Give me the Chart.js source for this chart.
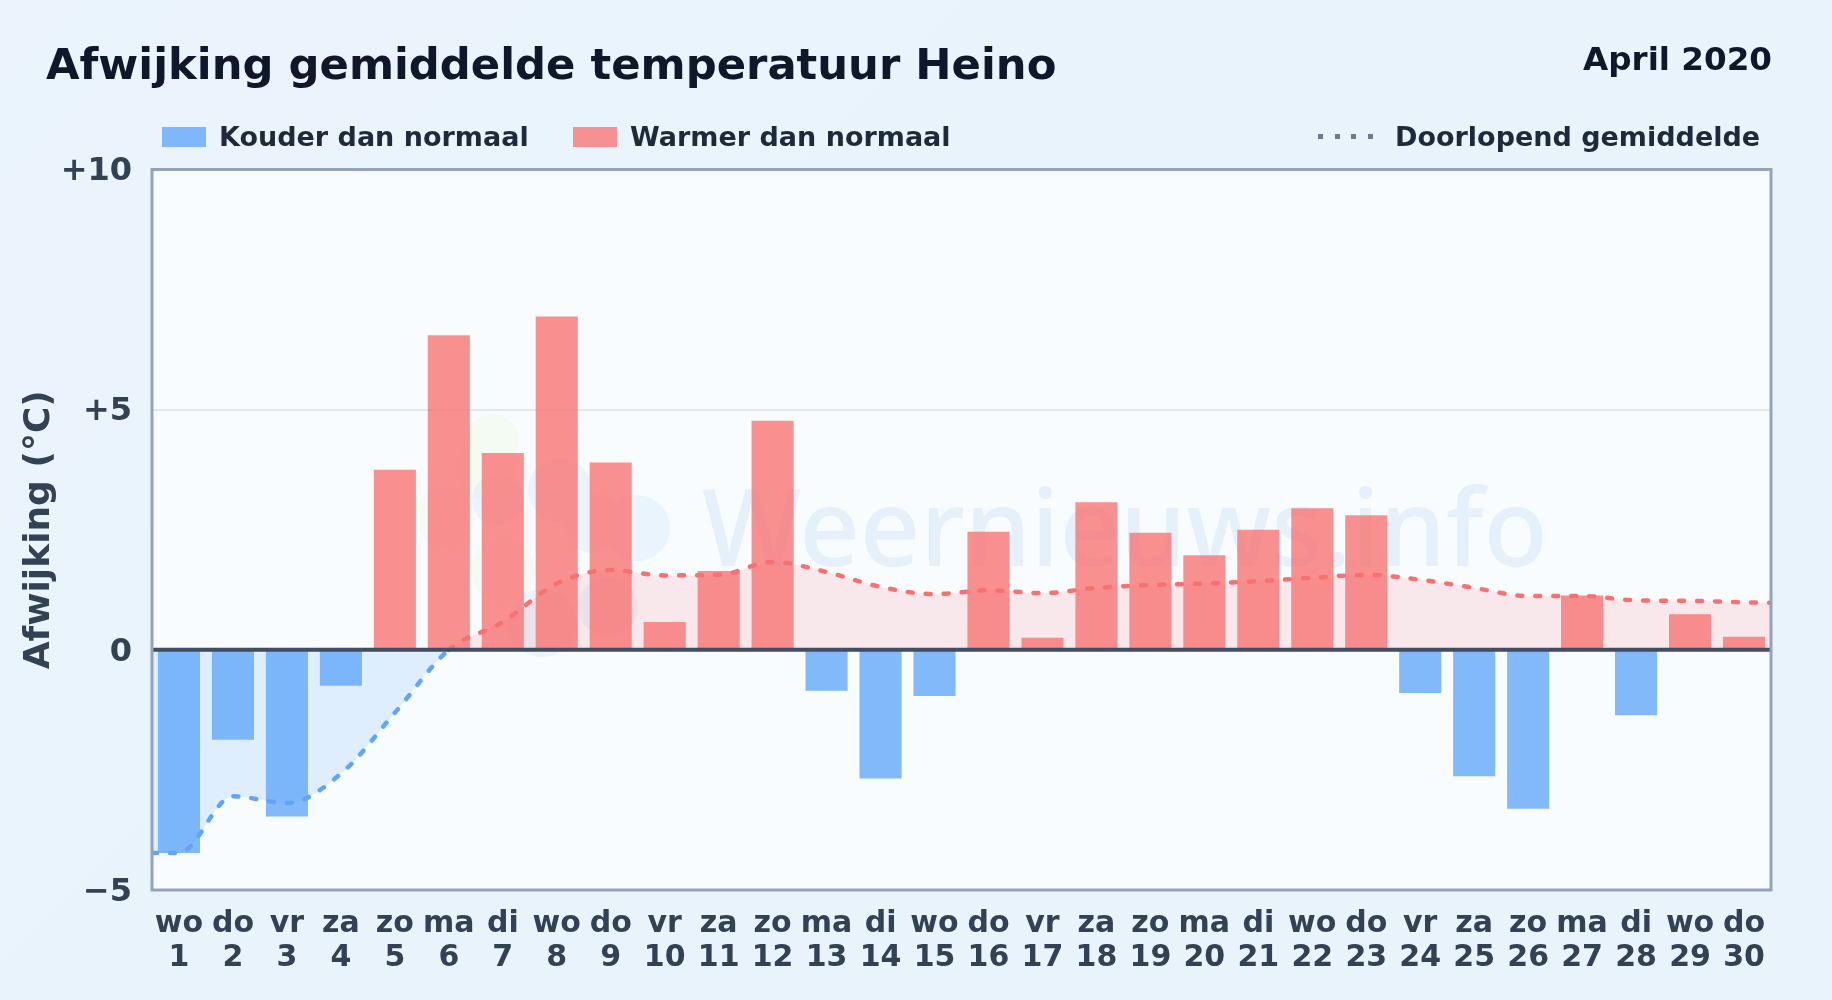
<!DOCTYPE html>
<html><head><meta charset="utf-8">
<script src="https://cdn.jsdelivr.net/npm/chart.js@4"></script>
<style>
html,body{margin:0;padding:0;width:1832px;height:1000px;overflow:hidden;background:linear-gradient(135deg,#ebf4fc 0%,#e8f3fc 50%,#e9f3fc 100%);font-family:"DejaVu Sans",sans-serif;font-weight:700}
#c{position:absolute;left:0;top:0}
.t{position:absolute;white-space:nowrap}
#title{left:46px;top:38px;font-size:43.3px;color:#0f172a;line-height:52px}
#date{right:60px;top:40px;font-size:32.6px;color:#0f172a;line-height:38px}
.leg{top:122px;font-size:27px;color:#1e293b;line-height:30px}
.sw{position:absolute;top:127px;width:44px;height:20px}
</style></head><body>
<canvas id="c" width="1832" height="1000"></canvas>
<div class="t" id="title">Afwijking gemiddelde temperatuur Heino</div>
<div class="t" id="date">April 2020</div>
<div class="sw" style="left:162px;background:#80b6fb"></div>
<div class="t leg" style="left:219px">Kouder dan normaal</div>
<div class="sw" style="left:573px;background:#f79093"></div>
<div class="t leg" style="left:630px">Warmer dan normaal</div>
<div class="sw" style="left:1318px;width:56px;top:134px;height:5px;background:repeating-linear-gradient(90deg,#6b7a8d 0 5px,transparent 5px 16.6px)"></div>
<div class="t leg" style="left:1395px">Doorlopend gemiddelde</div>
<script>
const weekdays = ["wo","do","vr","za","zo","ma","di","wo","do","vr","za","zo","ma","di","wo","do","vr","za","zo","ma","di","wo","do","vr","za","zo","ma","di","wo","do"];
const dates = [1,2,3,4,5,6,7,8,9,10,11,12,13,14,15,16,17,18,19,20,21,22,23,24,25,26,27,28,29,30];
const deviation = [-4.23,-1.87,-3.47,-0.75,3.75,6.55,4.1,6.94,3.9,0.58,1.64,4.77,-0.85,-2.68,-0.96,2.46,0.25,3.07,2.44,1.97,2.5,2.95,2.8,-0.9,-2.63,-3.31,1.13,-1.36,0.74,0.27];
const runningDays = [0.5,1,2,3,4,5,6,7,8,9,10,11,12,13,14,15,16,17,18,19,20,21,22,23,24,25,26,27,28,29,30,30.5];
const runningMean = [-4.23,-4.23,-3.05,-3.19,-2.58,-1.31,0,0.58,1.38,1.66,1.55,1.56,1.83,1.62,1.31,1.16,1.24,1.18,1.29,1.35,1.38,1.43,1.5,1.56,1.46,1.29,1.12,1.12,1.03,1.02,0.99,0.98];
const yTicks = [-5,0,5,10];

const RED='rgba(248,113,113,.78)', BLUE='rgba(96,165,250,.78)';
const decor = {
  id:'decor',
  beforeDatasetsDraw(ch){
    const {ctx,chartArea:a}=ch;
    ctx.save();
    ctx.beginPath();ctx.rect(a.left,a.top,a.width,a.height);ctx.clip();
    ctx.fillStyle='rgba(100,160,215,.13)';
    ctx.font='500 108px "Noto Sans"';ctx.textBaseline='alphabetic';ctx.textAlign='left';
    ctx.fillText('Weernieuws.info',702,566,846);
    const blob=(c,pts)=>{ctx.fillStyle=c;ctx.beginPath();pts.forEach(p=>{ctx.moveTo(p[0]+p[2],p[1]);ctx.arc(p[0],p[1],p[2],0,7)});ctx.fill()};
    blob('rgba(190,242,100,.08)',[[493,440,26],[485,470,30],[445,517,30],[503,570,32]]);
    blob('rgba(120,180,240,.1)',[[498,500,26],[560,490,32],[637,528,33],[593,523,30],[608,607,30],[542,623,34]]);
    ctx.restore();
  },
  afterDatasetsDraw(ch){
    const {ctx,chartArea:a,scales:{y}}=ch;
    ctx.save();ctx.strokeStyle='#414d61';ctx.lineWidth=4;
    const p=y.getPixelForValue(0);
    ctx.beginPath();ctx.moveTo(a.left,p);ctx.lineTo(a.right,p);ctx.stroke();
    ctx.restore();
  }
};
const frame = {id:'frame',
  beforeDraw(ch){const {ctx,chartArea:a}=ch;ctx.save();ctx.fillStyle='#f8fcff';ctx.fillRect(a.left,a.top,a.width,a.height);ctx.restore()},
  afterDraw(ch){const {ctx,chartArea:a}=ch;ctx.save();ctx.strokeStyle='#94a3b8';ctx.lineWidth=3;ctx.strokeRect(a.left,a.top,a.width,a.height);ctx.restore()}};
new Chart(document.getElementById('c'),{
  data:{labels:dates.map((d,i)=>[weekdays[i],String(d)]),datasets:[
    {type:'line',label:'Doorlopend gemiddelde',xAxisID:'xr',order:1,
     data:runningDays.map((x,i)=>({x,y:runningMean[i]})),
     borderWidth:4.5,borderDash:[5,13],borderCapStyle:'round',pointRadius:0,cubicInterpolationMode:'monotone',
     fill:{target:'origin',above:'rgba(248,113,113,.14)',below:'rgba(96,165,250,.16)'},
     borderColor:'#f87171',
     segment:{borderColor:c=>c.p0.parsed.y<0?'#60a5fa':'#f87171'}},
    {type:'bar',label:'Afwijking',order:2,data:deviation,
     backgroundColor:deviation.map(v=>v<0?BLUE:RED),categoryPercentage:1,barPercentage:.78,grouped:false}
  ]},
  options:{responsive:false,animation:false,
    layout:{padding:{top:169.5,right:61,left:0,bottom:0}},
    plugins:{legend:{display:false},tooltip:{enabled:false},title:{display:false}},
    scales:{
      x:{type:'category',grid:{display:false},border:{display:false},
         afterFit(s){s.height=110},
         ticks:{color:'#334155',font:{family:'"DejaVu Sans"',size:30,weight:'700',lineHeight:1.13},maxRotation:0,autoSkip:false,padding:9}},
      xr:{type:'linear',display:false,min:.5,max:30.5},
      y:{min:-5,max:10,
         afterBuildTicks(s){s.ticks=yTicks.map(value=>({value}))},
         afterFit(s){s.width=152},
         grid:{color:'#e2e8f0',lineWidth:2,drawTicks:false},
         border:{display:false},
         title:{display:true,text:'Afwijking (°C)',color:'#334155',font:{family:'"DejaVu Sans"',size:36,weight:'700'},padding:{top:18,bottom:0}},
         ticks:{color:'#334155',font:{family:'"DejaVu Sans"',size:32,weight:'700'},padding:20,labelOffset:2.5,
           callback:v=>v>0?'+'+v:(v<0?'−'+Math.abs(v):'0')}}
    }
  },
  plugins:[decor,frame]
});
</script></body></html>
